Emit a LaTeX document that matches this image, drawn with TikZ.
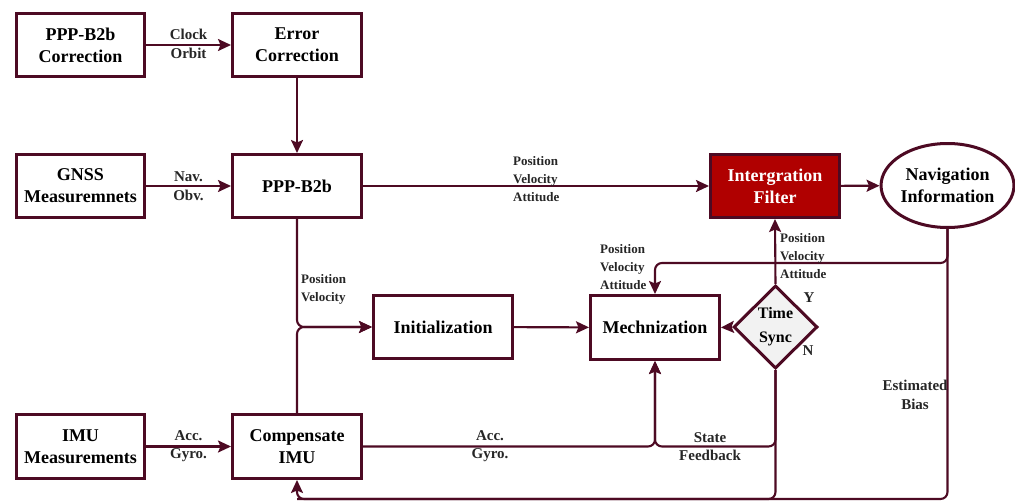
\documentclass[tikz,border=0pt]{standalone}
\usepackage{fontspec}
\setmainfont{Liberation Serif}
\usetikzlibrary{arrows.meta,shapes.geometric,calc}
\definecolor{lncol}{RGB}{77,10,35}
\definecolor{filtcol}{RGB}{176,0,0}
\definecolor{diacol}{RGB}{242,242,242}
\begin{document}
\begin{tikzpicture}[x=1pt,y=-1pt,
  box/.style={draw=lncol,line width=3pt,fill=white,align=center,inner sep=0pt,
    font=\bfseries\fontsize{18}{22}\selectfont},
  conn/.style={draw=lncol,line width=2.1pt,rounded corners=7pt,
    -{Stealth[length=13pt,width=12pt,inset=2.5pt]}},
  plainln/.style={draw=lncol,line width=2.1pt,rounded corners=7pt},
  lab/.style={font=\bfseries\fontsize{15}{18.5}\selectfont,align=center,inner sep=0pt,text=black!85},
  slab/.style={font=\bfseries\fontsize{13}{18}\selectfont,align=left,inner sep=0pt,text=black!85}
]
\useasboundingbox (0,0) rectangle (1015,503);

% nodes
\node[box,minimum width=128pt,minimum height=63pt] (pcorr) at (80.5,45) {PPP-B2b\\Correction};
\node[box,minimum width=129pt,minimum height=63pt] (ecorr) at (297,45) {Error\\Correction};
\node[box,minimum width=128pt,minimum height=63pt] (gnss) at (80.5,186) {GNSS\\Measuremnets};
\node[box,minimum width=129pt,minimum height=63pt] (ppp) at (297,186) {PPP-B2b};
\node[box,minimum width=128pt,minimum height=64pt] (imu) at (80.5,446.5) {IMU\\Measurements};
\node[box,minimum width=129pt,minimum height=64pt] (comp) at (297,446.5) {Compensate\\IMU};
\node[box,minimum width=139pt,minimum height=63pt] (init) at (443,327) {Initialization};
\node[box,minimum width=129pt,minimum height=64pt] (mech) at (655,327.5) {Mechnization};
\node[box,diamond,fill=diacol,minimum width=84pt,minimum height=83pt,
  font=\bfseries\fontsize{16}{24}\selectfont] (sync) at (775.5,327) {Time\\Sync};
\node[box,fill=filtcol,text=white,minimum width=129pt,minimum height=63pt] (filt) at (775,186) {Intergration\\Filter};
\node[box,ellipse,minimum width=130pt,minimum height=84pt] (nav) at (947.5,185.5) {Navigation\\Information};

\coordinate (c263) at (0,263);
\coordinate (c499) at (0,499);

% connectors
\draw[conn] (pcorr) -- (ecorr);
\draw[conn] (ecorr) -- (ppp);
\draw[conn] (gnss) -- (ppp);
\draw[conn] (ppp) -- (filt);
\draw[conn] (filt) -- (nav);
\draw[conn] (ppp.south) |- (init.west);
\draw[conn] (comp.north) |- (init.west);
\draw[conn] (init) -- (mech);
\draw[conn] (imu) -- (comp);
\draw[conn] (comp.east) -| (mech.south);
\draw[conn] (sync.west) -- (mech.east);
\draw[conn] (sync.north) -- (filt.south);
\draw[conn] (sync.south) |- (mech.south |- comp.east) -- (mech.south);
\draw[conn] (nav.south) |- (mech.north |- c263) -- (mech.north);
\draw[conn] (nav.south) |- (comp.south |- c499) -- (comp.south);
\draw[plainln] (sync.south) |- (comp.south |- c499);

% labels
\node[lab] (l1) at (188.5,44) {Clock\\Orbit};
\node[lab] (l2) at (188.5,186) {Nav.\\Obv.};
\node[lab] (l3) at (188.5,446) {Acc.\\Gyro.};
\node[lab] (l4) at (490,446) {Acc.\\Gyro.};
\node[lab] (l5) at (710,446.5) {State\\Feedback};
\node[lab] (l6) at (915,395) {Estimated\\Bias};
\node[slab,anchor=west] (l7) at (513,179) {Position\\Velocity\\Attitude};
\node[slab,anchor=west] (l8) at (301,289.5) {Position\\Velocity};
\node[slab,anchor=west] (l9) at (600,267.5) {Position\\Velocity\\Attitude};
\node[slab,anchor=west] (l10) at (780,256.5) {Position\\Velocity\\Attitude};
\node[lab] (ly) at (809,298) {Y};
\node[lab] (ln) at (808,351) {N};
\end{tikzpicture}
\end{document}
